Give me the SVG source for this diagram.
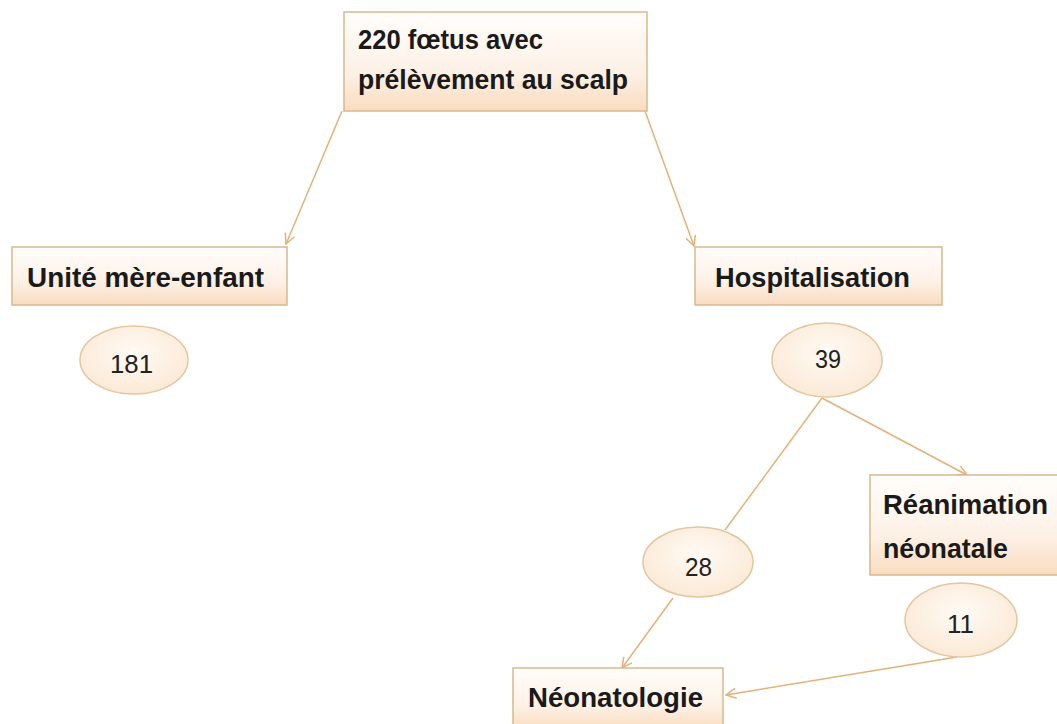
<svg xmlns="http://www.w3.org/2000/svg" width="1057" height="724" viewBox="0 0 1057 724">
<defs>
<linearGradient id="boxg" x1="0" y1="0" x2="0" y2="1">
<stop offset="0" stop-color="#fffdfb"/>
<stop offset="0.6" stop-color="#fdf1e6"/>
<stop offset="1" stop-color="#f9dcc0"/>
</linearGradient>
<radialGradient id="ellg" cx="0.5" cy="0.4" r="0.6">
<stop offset="0" stop-color="#fffaf4"/>
<stop offset="1" stop-color="#fbe9d6"/>
</radialGradient>
<marker id="arr" viewBox="0 0 12 12" refX="11" refY="6" markerWidth="12" markerHeight="12" markerUnits="userSpaceOnUse" orient="auto">
<path d="M1,1 L11,6 L1,11" fill="none" stroke="#e2b27a" stroke-width="1.5"/>
</marker>
</defs>
<style>
.box{fill:url(#boxg);stroke:#d8b890;stroke-width:1.5}
.ell{fill:url(#ellg);stroke:#e3c79f;stroke-width:1.5}
.lbl{font-family:"Liberation Sans",Arial,sans-serif;font-weight:bold;font-size:28px;fill:#1a1a1a}
.num{font-family:"Liberation Sans",Arial,sans-serif;font-size:26px;fill:#222}
.con{stroke:#e2b27a;stroke-width:1.5;fill:none}
</style>
<rect width="1057" height="724" fill="#ffffff"/>
<g id="connectors">
<line class="con" x1="342" y1="111" x2="286" y2="244" marker-end="url(#arr)"/>
<line class="con" x1="645" y1="111" x2="694" y2="246" marker-end="url(#arr)"/>
<line class="con" x1="822" y1="398" x2="725" y2="530"/>
<line class="con" x1="822" y1="398" x2="967" y2="475" marker-end="url(#arr)"/>
<line class="con" x1="673" y1="598" x2="622" y2="668" marker-end="url(#arr)"/>
<line class="con" x1="957" y1="657" x2="726" y2="695" marker-end="url(#arr)"/>
</g>
<g id="n-top">
<rect class="box" x="344" y="12" width="303" height="99"/>
<text class="lbl" x="358" y="49" textLength="185" lengthAdjust="spacingAndGlyphs">220 fœtus avec</text>
<text class="lbl" x="358" y="89" textLength="270" lengthAdjust="spacingAndGlyphs">prélèvement au scalp</text>
</g>
<g id="n-unite">
<rect class="box" x="12" y="247" width="275" height="58"/>
<text class="lbl" x="27" y="287" textLength="237" lengthAdjust="spacingAndGlyphs">Unité mère-enfant</text>
</g>
<g id="n-181">
<ellipse class="ell" cx="134" cy="360" rx="54" ry="34"/>
<text class="num" x="110" y="373" textLength="43" lengthAdjust="spacingAndGlyphs">181</text>
</g>
<g id="n-hosp">
<rect class="box" x="695" y="247" width="247" height="58"/>
<text class="lbl" x="715" y="287" textLength="195" lengthAdjust="spacingAndGlyphs">Hospitalisation</text>
</g>
<g id="n-39">
<ellipse class="ell" cx="827" cy="360" rx="55" ry="37"/>
<text class="num" x="815" y="368" textLength="26" lengthAdjust="spacingAndGlyphs">39</text>
</g>
<g id="n-rea">
<rect class="box" x="870" y="475" width="190" height="100"/>
<text class="lbl" x="883" y="514" textLength="165" lengthAdjust="spacingAndGlyphs">Réanimation</text>
<text class="lbl" x="883" y="558" textLength="125" lengthAdjust="spacingAndGlyphs">néonatale</text>
</g>
<g id="n-28">
<ellipse class="ell" cx="698" cy="562" rx="55" ry="35"/>
<text class="num" x="685" y="576" textLength="27" lengthAdjust="spacingAndGlyphs">28</text>
</g>
<g id="n-11">
<ellipse class="ell" cx="961" cy="620" rx="56" ry="37"/>
<text class="num" x="947" y="633" textLength="27" lengthAdjust="spacingAndGlyphs">11</text>
</g>
<g id="n-neo">
<rect class="box" x="513" y="668" width="210" height="62"/>
<text class="lbl" x="528" y="707" textLength="175" lengthAdjust="spacingAndGlyphs">Néonatologie</text>
</g>
</svg>
